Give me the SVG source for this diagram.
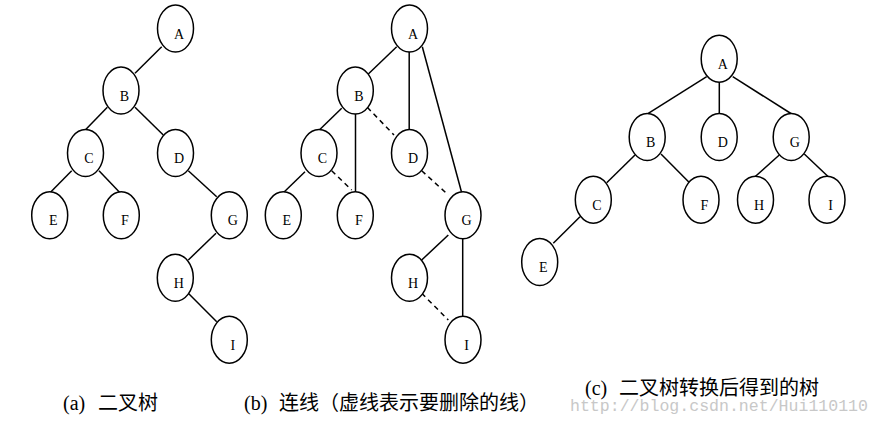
<svg xmlns="http://www.w3.org/2000/svg" width="880" height="425" viewBox="0 0 880 425">
<style>
.n ellipse{fill:#fff;stroke:#000;stroke-width:1.5}
.n text{font-family:"Liberation Serif","Times New Roman",serif;font-size:14px;text-anchor:middle;fill:#000}
.e line{stroke:#000;stroke-width:1.5;fill:none}
.e line.d{stroke-dasharray:5,4}
.cap{font-family:"Liberation Serif","Noto Sans CJK SC",serif;font-size:20px;fill:#000}
.wm{font-family:"Liberation Mono","DejaVu Sans Mono",monospace;font-size:16.5px;fill:#c8c8c8}
</style>
<rect width="880" height="425" fill="#fff"/>
<g id="connectors" class="e">
<!-- (a) -->
<line x1="161.7" y1="46.7" x2="135" y2="73.3"/>
<line x1="107.3" y1="107.3" x2="86" y2="129.3"/>
<line x1="135" y1="107.3" x2="163.3" y2="135"/>
<line x1="71.7" y1="170.7" x2="50" y2="192.7"/>
<line x1="99" y1="170.7" x2="120" y2="192.7"/>
<line x1="188.3" y1="170.7" x2="216.7" y2="196.7"/>
<line x1="216" y1="233.3" x2="188.3" y2="260"/>
<line x1="188.3" y1="293.3" x2="216.7" y2="321.7"/>
<!-- (b) -->
<line x1="396.7" y1="46.7" x2="368.3" y2="74"/>
<line x1="409.2" y1="51.7" x2="409.2" y2="129.3"/>
<line x1="422.3" y1="46.7" x2="461.5" y2="192"/>
<line x1="341.7" y1="108.3" x2="319.3" y2="130"/>
<line x1="355.5" y1="114" x2="355.5" y2="192"/>
<line class="d" x1="367.3" y1="107.3" x2="394" y2="135"/>
<line x1="305" y1="171.7" x2="283.3" y2="192.7"/>
<line class="d" x1="331.7" y1="170.7" x2="351.7" y2="190"/>
<line class="d" x1="421.7" y1="170.7" x2="448.3" y2="195"/>
<line x1="448.3" y1="235" x2="421.7" y2="260"/>
<line x1="462.7" y1="239" x2="462.7" y2="316"/>
<line class="d" x1="421.7" y1="293.3" x2="448.3" y2="320"/>
<!-- (c) -->
<line x1="706.7" y1="76.7" x2="648.3" y2="113.3"/>
<line x1="719.3" y1="82.3" x2="719.3" y2="113.3"/>
<line x1="732.7" y1="76.7" x2="791.7" y2="114"/>
<line x1="635" y1="155" x2="606.7" y2="182.7"/>
<line x1="661" y1="154" x2="690" y2="183.3"/>
<line x1="779.3" y1="155" x2="755" y2="176.7"/>
<line x1="804.3" y1="154" x2="828.3" y2="176.7"/>
<line x1="580" y1="216.7" x2="553.3" y2="243.3"/>
</g>
<g id="a-A" class="n"><ellipse cx="175.5" cy="28.5" rx="18" ry="23.5"/><text x="179" y="38.5">A</text></g>
<g id="a-B" class="n"><ellipse cx="121" cy="90.5" rx="18" ry="23.5"/><text x="124.5" y="100.5">B</text></g>
<g id="a-C" class="n"><ellipse cx="85.5" cy="153" rx="18" ry="23.5"/><text x="89" y="163">C</text></g>
<g id="a-D" class="n"><ellipse cx="175.5" cy="153" rx="18" ry="23.5"/><text x="179" y="163">D</text></g>
<g id="a-E" class="n"><ellipse cx="49.7" cy="215.3" rx="18" ry="23.5"/><text x="53.2" y="225.3">E</text></g>
<g id="a-F" class="n"><ellipse cx="121.3" cy="215.3" rx="18" ry="23.5"/><text x="124.8" y="225.3">F</text></g>
<g id="a-G" class="n"><ellipse cx="229.3" cy="215.3" rx="18" ry="23.5"/><text x="232.8" y="225.3">G</text></g>
<g id="a-H" class="n"><ellipse cx="175.3" cy="277.8" rx="18" ry="23.5"/><text x="178.8" y="287.8">H</text></g>
<g id="a-I" class="n"><ellipse cx="229.3" cy="339.7" rx="18" ry="23.5"/><text x="232.8" y="349.7">I</text></g>

<g id="b-A" class="n"><ellipse cx="409.5" cy="28.5" rx="18" ry="23.5"/><text x="413" y="38.5">A</text></g>
<g id="b-B" class="n"><ellipse cx="355.3" cy="90.5" rx="18" ry="23.5"/><text x="358.8" y="100.5">B</text></g>
<g id="b-C" class="n"><ellipse cx="319" cy="153" rx="18" ry="23.5"/><text x="322.5" y="163">C</text></g>
<g id="b-D" class="n"><ellipse cx="409.5" cy="153" rx="18" ry="23.5"/><text x="413" y="163">D</text></g>
<g id="b-E" class="n"><ellipse cx="283.3" cy="215.3" rx="18" ry="23.5"/><text x="286.8" y="225.3">E</text></g>
<g id="b-F" class="n"><ellipse cx="355.3" cy="215.3" rx="18" ry="23.5"/><text x="358.8" y="225.3">F</text></g>
<g id="b-G" class="n"><ellipse cx="463" cy="215.3" rx="18" ry="23.5"/><text x="466.5" y="225.3">G</text></g>
<g id="b-H" class="n"><ellipse cx="409.5" cy="277.8" rx="18" ry="23.5"/><text x="413" y="287.8">H</text></g>
<g id="b-I" class="n"><ellipse cx="463" cy="339.7" rx="18" ry="23.5"/><text x="466.5" y="349.7">I</text></g>

<g id="c-A" class="n"><ellipse cx="719.2" cy="58.7" rx="18" ry="23.5"/><text x="722.7" y="68.7">A</text></g>
<g id="c-B" class="n"><ellipse cx="647.2" cy="137" rx="18" ry="23.5"/><text x="650.7" y="147">B</text></g>
<g id="c-D" class="n"><ellipse cx="719.2" cy="137" rx="18" ry="23.5"/><text x="722.7" y="147">D</text></g>
<g id="c-G" class="n"><ellipse cx="791.2" cy="137" rx="18" ry="23.5"/><text x="794.7" y="147">G</text></g>
<g id="c-C" class="n"><ellipse cx="593.3" cy="199.7" rx="18" ry="23.5"/><text x="596.8" y="209.7">C</text></g>
<g id="c-F" class="n"><ellipse cx="701" cy="199.7" rx="18" ry="23.5"/><text x="704.5" y="209.7">F</text></g>
<g id="c-H" class="n"><ellipse cx="755.5" cy="199.7" rx="18" ry="23.5"/><text x="759" y="209.7">H</text></g>
<g id="c-I" class="n"><ellipse cx="827" cy="199.7" rx="18" ry="23.5"/><text x="830.5" y="209.7">I</text></g>
<g id="c-E" class="n"><ellipse cx="539.7" cy="262" rx="18" ry="23.5"/><text x="543.2" y="272">E</text></g>

<g id="captions">
<text class="wm" x="570" y="411" textLength="298" lengthAdjust="spacingAndGlyphs">http://blog.csdn.net/Hui110110</text>
<text class="cap" x="63" y="410">(a)</text>
<text class="cap" x="98" y="410">二叉树</text>
<text class="cap" x="244" y="410">(b)</text>
<text class="cap" x="279" y="410">连线（虚线表示要删除的线）</text>
<text class="cap" x="585" y="395">(c)</text>
<text class="cap" x="619" y="395">二叉树转换后得到的树</text>
</g>
</svg>
